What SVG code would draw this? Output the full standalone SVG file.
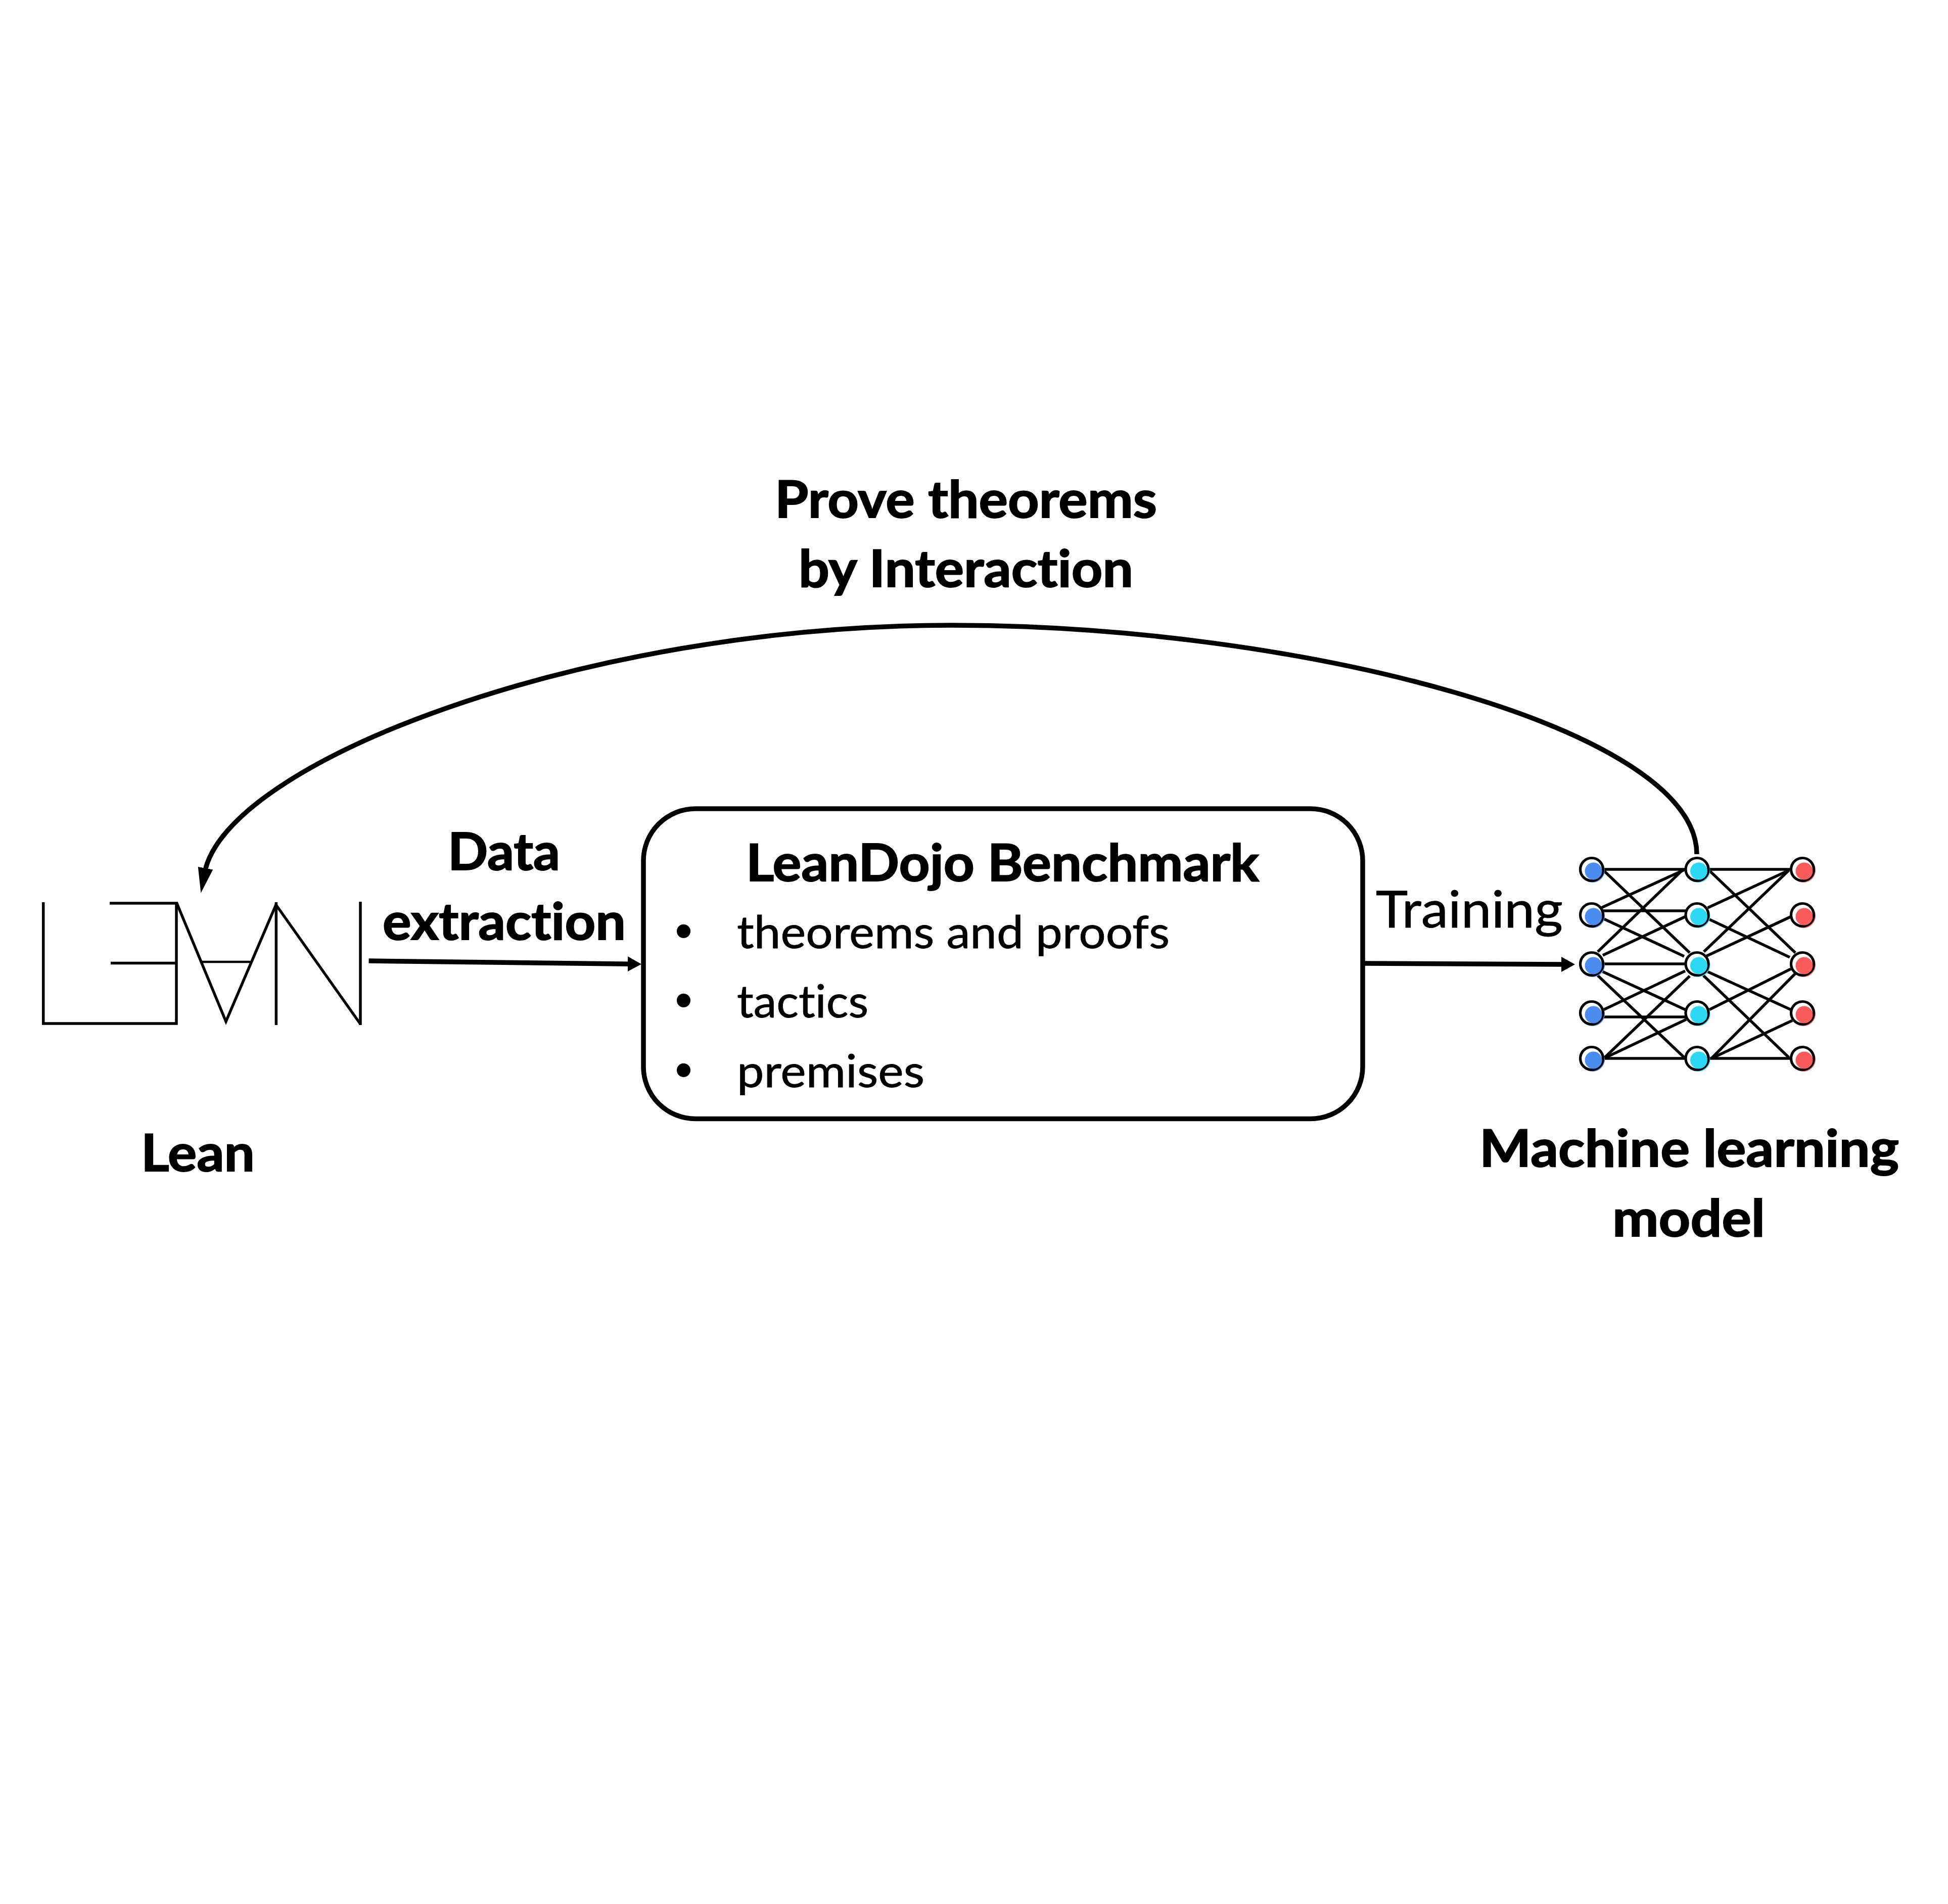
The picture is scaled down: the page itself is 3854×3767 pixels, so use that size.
<svg xmlns="http://www.w3.org/2000/svg" width="3854" height="3767" viewBox="0 0 3854 3767">
<style>
text{font-family:Lato,"Liberation Sans",sans-serif;fill:#000;font-variant-ligatures:none}
.b{font-weight:700;font-size:101px;stroke:#000;stroke-width:2;paint-order:stroke}
.r{font-weight:400;font-size:90px;stroke:#000;stroke-width:.9}
.t{font-weight:400;font-size:100px;stroke:#000;stroke-width:.9}
.dot{font-family:"Liberation Sans",sans-serif;font-size:100px;text-anchor:middle}
.logo{fill:none;stroke:#000;stroke-width:5.5;stroke-miterlimit:20}
.conn{fill:none;stroke:#000;stroke-width:9.5}
.edge{stroke:#000;stroke-width:5.6}
.ring{fill:#fff;stroke:#000;stroke-width:5.2}
.box{fill:none;stroke:#000;stroke-width:9.5}
.blue{fill:#4a8cf0}.cyan{fill:#2dd8f2}.red{fill:#f95a5a}
</style>
<defs>
<marker id="headL" markerUnits="userSpaceOnUse" markerWidth="60" markerHeight="34" viewBox="0 -17 60 34" refX="10" refY="0" orient="auto"><path d="M0,-15L50,0L0,15z" fill="#000"/></marker>
<marker id="headS" markerUnits="userSpaceOnUse" markerWidth="40" markerHeight="34" viewBox="0 -17 40 34" refX="5" refY="0" orient="auto"><path d="M0,-15L27,0L0,15z" fill="#000"/></marker>
<g id="nBlue"><circle class="blue" cx="2" cy="2" r="24"/><circle class="ring" r="22.5"/><circle class="blue" cx="3.5" cy="3.5" r="17"/></g>
<g id="nCyan"><circle class="cyan" cx="2" cy="2" r="24"/><circle class="ring" r="22.5"/><circle class="cyan" cx="3.5" cy="3.5" r="17"/></g>
<g id="nRed"><circle class="red" cx="2" cy="2" r="24"/><circle class="ring" r="22.5"/><circle class="red" cx="3.5" cy="3.5" r="17"/></g>
</defs>
<rect width="3854" height="3767" fill="#fff"/>

<g id="lean-logo">
<path class="logo" d="M85.7,1785V2025H349V1787H217"/>
<path class="logo" d="M219,1905.6H349"/>
<path class="logo" d="M349,1785L447,2021L546,1790L713,2026"/>
<path class="logo" d="M399.5,1903H495" style="stroke-width:4.5"/>
<path class="logo" d="M546.4,1785V2028"/>
<path class="logo" d="M713,1784V2028"/>
<text class="b" x="279" y="2317" textLength="225" lengthAdjust="spacingAndGlyphs">Lean</text>
</g>

<g id="benchmark">
<rect class="box" x="1273" y="1600" width="1423" height="613.5" rx="103" ry="103"/>
<text class="b" x="1476" y="1742.6" textLength="1015" lengthAdjust="spacingAndGlyphs">LeanDojo Benchmark</text>
<text class="dot" x="1352.5" y="1876">•</text>
<text class="r" x="1458" y="1876" textLength="856" lengthAdjust="spacingAndGlyphs">theorems and proofs</text>
<text class="dot" x="1352.5" y="2013">•</text>
<text class="r" x="1458" y="2013" textLength="260" lengthAdjust="spacingAndGlyphs">tactics</text>
<text class="dot" x="1352.5" y="2150.6">•</text>
<text class="r" x="1458" y="2151" textLength="371" lengthAdjust="spacingAndGlyphs">premises</text>
</g>

<g id="ml-model-label">
<text class="b" x="2927" y="2308" textLength="830" lengthAdjust="spacingAndGlyphs">Machine learning</text>
<text class="b" x="3190" y="2446" textLength="302" lengthAdjust="spacingAndGlyphs">model</text>
</g>

<g id="connectors">
<path class="conn" d="M3357,1690C3357,1440 2570,1237 1882,1237C1150,1237 445,1510 404.7,1727.5" marker-end="url(#headL)"/>
<path class="conn" d="M729.6,1901L1247,1907.2" marker-end="url(#headS)"/>
<path class="conn" d="M2700,1906L3094,1908" marker-end="url(#headS)"/>
</g>

<g id="connector-labels">
<text class="b" x="1533" y="1023.5" textLength="756" lengthAdjust="spacingAndGlyphs">Prove theorems</text>
<text class="b" x="1580" y="1161" textLength="662" lengthAdjust="spacingAndGlyphs">by Interaction</text>
<text class="b" x="886" y="1721" textLength="222" lengthAdjust="spacingAndGlyphs">Data</text>
<text class="b" x="757" y="1859" textLength="481" lengthAdjust="spacingAndGlyphs">extraction</text>
<text class="t" x="2722" y="1835" textLength="370" lengthAdjust="spacingAndGlyphs">Training</text>
</g>

<g id="network-edges">
<line class="edge" x1="3149" y1="1720" x2="3357.5" y2="1720"/>
<line class="edge" x1="3173" y1="1722.5" x2="3343" y2="1885"/>
<line class="edge" x1="3168" y1="1796" x2="3332" y2="1721"/>
<line class="edge" x1="3149" y1="1802" x2="3357.5" y2="1802"/>
<line class="edge" x1="3171" y1="1817" x2="3332" y2="1892"/>
<line class="edge" x1="3161" y1="1883" x2="3329" y2="1721"/>
<line class="edge" x1="3171" y1="1890" x2="3334" y2="1813.6"/>
<line class="edge" x1="3149" y1="1907" x2="3357.5" y2="1907"/>
<line class="edge" x1="3171" y1="1922.5" x2="3334" y2="1997.5"/>
<line class="edge" x1="3161" y1="1930" x2="3332" y2="2092"/>
<line class="edge" x1="3173" y1="1997.5" x2="3334" y2="1921"/>
<line class="edge" x1="3149" y1="2012" x2="3357.5" y2="2012"/>
<line class="edge" x1="3173" y1="2094" x2="3343" y2="1931"/>
<line class="edge" x1="3173" y1="2094" x2="3336" y2="2017"/>
<line class="edge" x1="3149" y1="2094" x2="3357.5" y2="2094"/>
<line class="edge" x1="3357.5" y1="1720" x2="3566" y2="1720"/>
<line class="edge" x1="3382" y1="1722.5" x2="3552" y2="1885"/>
<line class="edge" x1="3378.6" y1="1796" x2="3539" y2="1722"/>
<line class="edge" x1="3382" y1="1819" x2="3541" y2="1894"/>
<line class="edge" x1="3371" y1="1883" x2="3539" y2="1722"/>
<line class="edge" x1="3375" y1="1892" x2="3543" y2="1813.6"/>
<line class="edge" x1="3378.6" y1="1922.5" x2="3543" y2="1997.5"/>
<line class="edge" x1="3370" y1="1930" x2="3539" y2="2092"/>
<line class="edge" x1="3382" y1="1997.5" x2="3543" y2="1917"/>
<line class="edge" x1="3386" y1="2094" x2="3552" y2="1926"/>
<line class="edge" x1="3386" y1="2094" x2="3546" y2="2019"/>
<line class="edge" x1="3357.5" y1="2094" x2="3566" y2="2094"/>
</g>

<g id="n-l1"><use href="#nBlue" x="3149" y="1720"/></g>
<g id="n-l2"><use href="#nBlue" x="3149" y="1810"/></g>
<g id="n-l3"><use href="#nBlue" x="3149" y="1907"/></g>
<g id="n-l4"><use href="#nBlue" x="3149" y="2004"/></g>
<g id="n-l5"><use href="#nBlue" x="3149" y="2094"/></g>
<g id="n-m1"><use href="#nCyan" x="3357.5" y="1720"/></g>
<g id="n-m2"><use href="#nCyan" x="3357.5" y="1810"/></g>
<g id="n-m3"><use href="#nCyan" x="3357.5" y="1907"/></g>
<g id="n-m4"><use href="#nCyan" x="3357.5" y="2004"/></g>
<g id="n-m5"><use href="#nCyan" x="3357.5" y="2094"/></g>
<g id="n-r1"><use href="#nRed" x="3566" y="1720"/></g>
<g id="n-r2"><use href="#nRed" x="3566" y="1810"/></g>
<g id="n-r3"><use href="#nRed" x="3566" y="1907"/></g>
<g id="n-r4"><use href="#nRed" x="3566" y="2004"/></g>
<g id="n-r5"><use href="#nRed" x="3566" y="2094"/></g>
</svg>
